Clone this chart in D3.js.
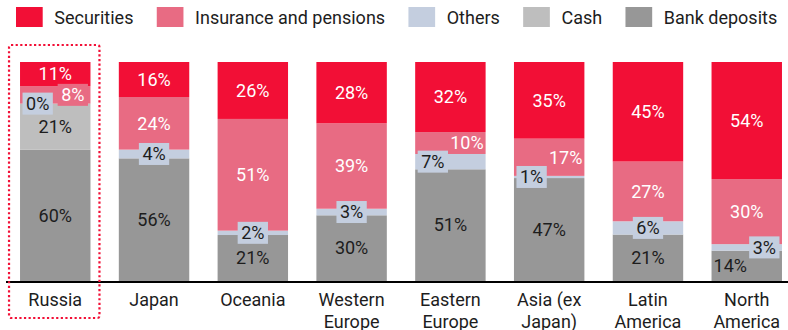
<!DOCTYPE html>
<html>
<head>
<meta charset="utf-8">
<script src="https://cdn.jsdelivr.net/npm/d3@7"></script>
<style>
  html, body { margin: 0; padding: 0; background: #fff; }
  svg { display: block; font-family: Roboto, "Noto Sans", sans-serif; }
</style>
</head>
<body>
<svg id="chart" width="788" height="330"></svg>
<script>
// Household financial assets by type, share of total (%)
const regions = ["Russia", "Japan", "Oceania", "Western Europe", "Eastern Europe", "Asia (ex Japan)", "Latin America", "North America"];
const bankDeposits = [60, 56, 21, 30, 51, 47, 21, 14];
const cash         = [21, null, null, null, null, null, null, null];
const others       = [0, 4, 2, 3, 7, 1, 6, 3];
const insurance    = [8, 24, 51, 39, 10, 17, 27, 30];
const securities   = [11, 16, 26, 28, 32, 35, 45, 54];

// Series in stacking order (bottom to top) and legend order
const stackOrder  = ["Bank deposits", "Cash", "Others", "Insurance and pensions", "Securities"];
const legendOrder = ["Securities", "Insurance and pensions", "Others", "Cash", "Bank deposits"];
const seriesValues = {
  "Bank deposits": bankDeposits,
  "Cash": cash,
  "Others": others,
  "Insurance and pensions": insurance,
  "Securities": securities
};
const colors = {
  "Securities": "#F20F36",
  "Insurance and pensions": "#E86B83",
  "Others": "#C4CEDF",
  "Cash": "#BEBEBE",
  "Bank deposits": "#979797"
};
const textColors = {
  "Securities": "#ffffff",
  "Insurance and pensions": "#ffffff",
  "Others": "#1d1d1d",
  "Cash": "#1d1d1d",
  "Bank deposits": "#1d1d1d"
};

// Label placement for thin segments: side + whether a background tag is drawn
const labelPlacement = {
  "Russia|Others": ["left", true],
  "Russia|Insurance and pensions": ["right", true],
  "Japan|Others": ["center", true],
  "Oceania|Others": ["center", true],
  "Western Europe|Others": ["center", true],
  "Eastern Europe|Others": ["left", true],
  "Eastern Europe|Insurance and pensions": ["right", false],
  "Asia (ex Japan)|Others": ["left", true],
  "Asia (ex Japan)|Insurance and pensions": ["right", false],
  "Latin America|Others": ["center", true],
  "North America|Others": ["right", true],
  "North America|Bank deposits": ["left", false]
};

const table = regions.map((r, i) => {
  const row = { region: r };
  stackOrder.forEach(k => { row[k] = seriesValues[k][i] == null ? 0 : seriesValues[k][i]; });
  return row;
});

const svg = d3.select("#chart");
const fontSize = 18;

const x = d3.scaleBand()
  .domain(regions)
  .range([6, 796])
  .paddingInner(0.287)
  .paddingOuter(0.142);

const y = d3.scaleLinear().domain([0, 1]).range([281, 62]);

const stacked = d3.stack()
  .keys(stackOrder)
  .offset(d3.stackOffsetExpand)(table);

// Bars
const layers = svg.append("g").attr("class", "bars")
  .selectAll("g")
  .data(stacked)
  .join("g")
  .attr("fill", d => colors[d.key]);

layers.selectAll("rect")
  .data(d => d.map(p => ({ key: d.key, p })))
  .join("rect")
  .attr("x", d => x(d.p.data.region))
  .attr("width", x.bandwidth())
  .attr("y", d => y(d.p[1]))
  .attr("height", d => Math.max(0, y(d.p[0]) - y(d.p[1])));

// Value labels
const labelData = [];
stacked.forEach(layer => {
  layer.forEach((p, i) => {
    const v = seriesValues[layer.key][i];
    if (v == null) return;
    labelData.push({ key: layer.key, region: p.data.region, value: v, y0: p[0], y1: p[1] });
  });
});

const labels = svg.append("g").attr("class", "labels");
labelData.forEach(d => {
  const place = labelPlacement[d.region + "|" + d.key] || ["center", false];
  const side = place[0], tagged = place[1];
  const bx0 = x(d.region), bx1 = bx0 + x.bandwidth();
  const cy = (y(d.y0) + y(d.y1)) / 2;
  const inset = tagged ? 6 : 2;
  let tx, anchor;
  if (side === "left") { tx = bx0 + inset; anchor = "start"; }
  else if (side === "right") { tx = bx1 - inset; anchor = "end"; }
  else { tx = (bx0 + bx1) / 2; anchor = "middle"; }

  const g = labels.append("g");
  const t = g.append("text")
    .attr("x", tx)
    .attr("y", cy)
    .attr("dy", "0.35em")
    .attr("text-anchor", anchor)
    .attr("font-size", fontSize)
    .attr("fill", textColors[d.key])
    .text(d.value + "%");
  if (tagged) {
    const bb = t.node().getBBox();
    g.insert("rect", "text")
      .attr("x", bb.x - 3.5)
      .attr("y", cy - 11)
      .attr("width", bb.width + 7)
      .attr("height", 22)
      .attr("fill", colors[d.key]);
  }
});

// Baseline
svg.append("line")
  .attr("x1", 6).attr("x2", 788)
  .attr("y1", 282).attr("y2", 282)
  .attr("stroke", "#000")
  .attr("stroke-width", 2);

// Category axis labels (wrapped)
const xAxis = svg.append("g")
  .attr("transform", "translate(0,282)")
  .call(d3.axisBottom(x).tickSize(0).tickPadding(0));
xAxis.select(".domain").remove();
xAxis.selectAll("text")
  .attr("font-size", fontSize)
  .attr("font-family", "Roboto, sans-serif")
  .attr("fill", "#1d1d1d")
  .attr("y", 24)
  .attr("dy", 0)
  .each(function (d) {
    const el = d3.select(this);
    const words = d.split(" ");
    el.text(null);
    const maxW = x.bandwidth() + 20;
    let line = [];
    let tspan = el.append("tspan").attr("x", 0).attr("dy", 0);
    words.forEach(w => {
      line.push(w);
      tspan.text(line.join(" "));
      if (tspan.node().getComputedTextLength() > maxW && line.length > 1) {
        line.pop();
        tspan.text(line.join(" "));
        line = [w];
        tspan = el.append("tspan").attr("x", 0).attr("dy", "1.2em").text(w);
      }
    });
  });

// Highlight frame around Russia
svg.append("rect")
  .attr("x", x("Russia") - 11)
  .attr("y", 45)
  .attr("width", x.bandwidth() + 20)
  .attr("height", 273)
  .attr("rx", 2)
  .attr("fill", "none")
  .attr("stroke", "#F20F36")
  .attr("stroke-width", 2.2)
  .attr("stroke-dasharray", "2.2,2.4");

// Legend
const legend = svg.append("g").attr("class", "legend");
let lx = 16;
legendOrder.forEach(k => {
  legend.append("rect")
    .attr("x", lx).attr("y", 7)
    .attr("width", 26.7).attr("height", 20)
    .attr("fill", colors[k]);
  const t = legend.append("text")
    .attr("x", lx + 38.3)
    .attr("y", 24)
    .attr("font-size", fontSize)
    .attr("fill", "#1d1d1d")
    .text(k);
  lx += 38.3 + t.node().getComputedTextLength() + 23.3;
});
</script>
</body>
</html>
